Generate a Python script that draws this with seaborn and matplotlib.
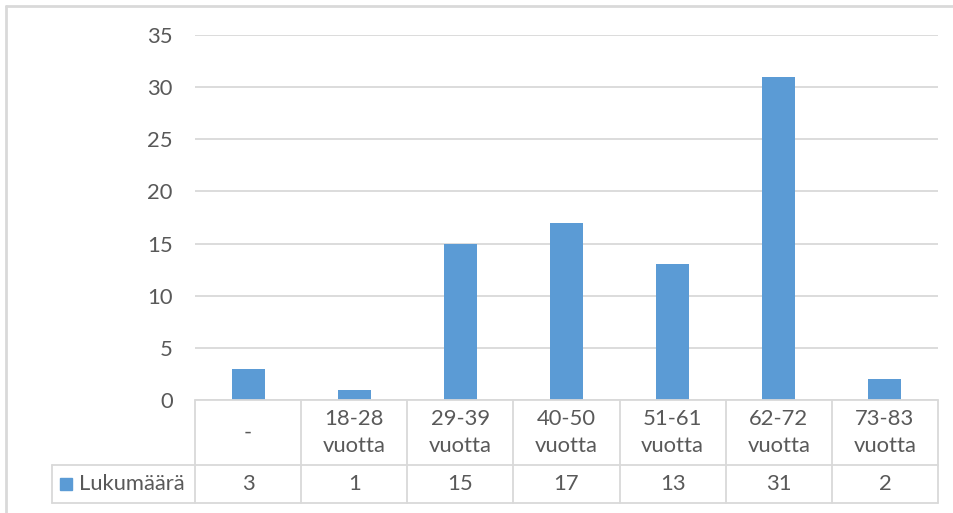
import numpy as np
import matplotlib
matplotlib.use("Agg")
import matplotlib.pyplot as plt
import matplotlib.transforms as mtransforms
from matplotlib.lines import Line2D
from matplotlib.patches import Rectangle
import seaborn as sns

# DATA
categories = ["-", "18-28\nvuotta", "29-39\nvuotta", "40-50\nvuotta",
              "51-61\nvuotta", "62-72\nvuotta", "73-83\nvuotta"]
values = [3, 1, 15, 17, 13, 31, 2]
series_name = "Lukumäärä"
y_ticks = [0, 5, 10, 15, 20, 25, 30, 35]

BAR = "#5B9BD5"
GRID = "#D9D9D9"
TEXT = "#595959"
FS = 15.8

sns.set_theme(style="white")
plt.rcParams['font.family'] = ['Lato', 'DejaVu Sans']

fig = plt.figure(figsize=(9.54, 5.13), dpi=100)
W, H = 954, 513
ax = fig.add_axes([195 / W, 1 - 400 / H, (938 - 195) / W, (400 - 35) / H])

sns.barplot(x=list(range(len(values))), y=values, color=BAR, width=0.31,
            saturation=1, linewidth=0, ax=ax, zorder=3)

ax.set_xlim(-0.5, len(values) - 0.5)
ax.set_ylim(0, 35)
ax.set_yticks(y_ticks)
ax.set_yticklabels([str(t) for t in y_ticks], fontsize=FS, color=TEXT)
ax.tick_params(axis="y", length=0, pad=16)
ax.tick_params(axis="x", length=0, labelbottom=False)
ax.set_xlabel("")
ax.set_ylabel("")
ax.yaxis.grid(True, color=GRID, linewidth=1.3, zorder=0)
ax.set_axisbelow(True)
for s in ax.spines.values():
    s.set_visible(False)

# data table under the plot
trans = mtransforms.blended_transform_factory(ax.transData, ax.transAxes)
axh = (400 - 35)
row1 = -(465 - 400) / axh
row2 = -(503 - 400) / axh
n = len(values)
left_cell = -0.5 + (52 - 195) / ((938 - 195) / n)
lw = 1.3

def tline(xs, ys):
    ax.add_line(Line2D(xs, ys, transform=trans, color=GRID, lw=lw,
                       clip_on=False, zorder=4))

tline([-0.5, n - 0.5], [0, 0])
tline([left_cell, n - 0.5], [row1, row1])
tline([left_cell, n - 0.5], [row2, row2])
for i in range(n + 1):
    tline([i - 0.5, i - 0.5], [0, row2])
tline([left_cell, left_cell], [row1, row2])

for i, (cat, v) in enumerate(zip(categories, values)):
    ax.text(i, row1 / 2, cat, transform=trans, ha="center", va="center",
            fontsize=FS, color=TEXT, linespacing=1.45)
    ax.text(i, (row1 + row2) / 2, str(v), transform=trans, ha="center",
            va="center", fontsize=FS, color=TEXT)

# legend key in the table
fig.add_artist(Rectangle((60 / W, 1 - 490 / H), 12 / W, 12 / H,
                         transform=fig.transFigure, color=BAR))
fig.text(79 / W, 1 - 484 / H, series_name, ha="left", va="center",
         fontsize=FS, color=TEXT)

# outer chart border
fig.add_artist(Line2D([6 / W, 6 / W], [0, 1 - 6 / H], transform=fig.transFigure,
                      color=GRID, lw=2))
fig.add_artist(Line2D([6 / W, 1], [1 - 6 / H, 1 - 6 / H], transform=fig.transFigure,
                      color=GRID, lw=2))

fig.savefig("out.png", dpi=100, facecolor="white")
